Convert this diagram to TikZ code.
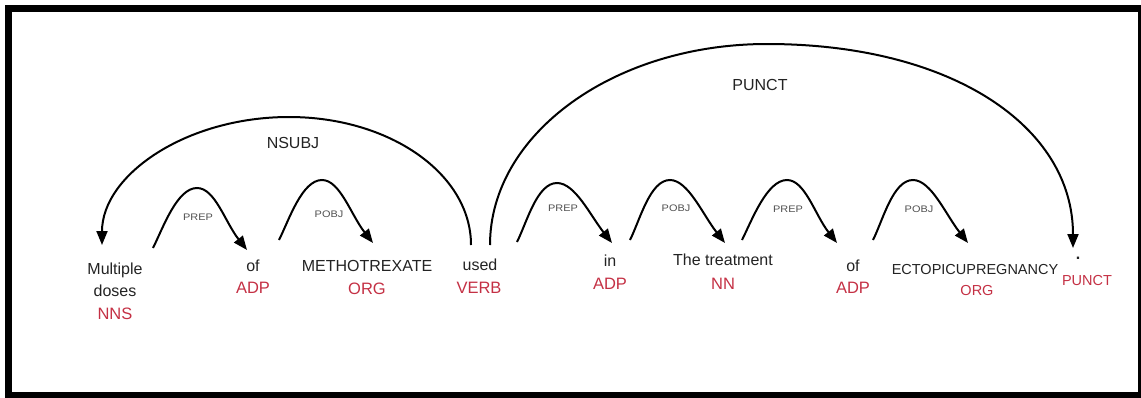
\documentclass[tikz,border=0pt]{standalone}
\usepackage{fontspec}
\setmainfont{Liberation Sans}
\usetikzlibrary{arrows.meta}
\definecolor{tagred}{RGB}{196,48,68}
\definecolor{wordgray}{RGB}{35,35,35}
\definecolor{smallgray}{RGB}{80,80,80}
\begin{document}
\begin{tikzpicture}[x=1pt,y=-1pt,
  word/.style={anchor=base, text=wordgray, font=\fontsize{16}{18}\selectfont, inner sep=0pt},
  smallword/.style={anchor=base, text=wordgray, font=\fontsize{14.5}{16}\selectfont, inner sep=0pt},
  tag/.style={anchor=base, text=tagred, font=\fontsize{16.5}{18}\selectfont, inner sep=0pt},
  smalltag/.style={anchor=base, text=tagred, font=\fontsize{14.5}{16}\selectfont, inner sep=0pt},
  rel/.style={anchor=base, text=wordgray, font=\fontsize{16}{18}\selectfont, inner sep=0pt},
  minirel/.style={anchor=base, text=smallgray, font=\fontsize{9.5}{10}\selectfont, inner sep=0pt},
  dep/.style={line width=2pt, draw=black, -{Triangle[length=14pt,width=11pt]}},
]
\useasboundingbox (0,0) rectangle (1141,397);
\begin{scope}
  \clip (0,0) rectangle (1141,397);
  \draw[line width=7pt] (8,8) rectangle (1141.5,395.5);
\end{scope}

% words
\node[word] (w1a) at (115,274) {Multiple};
\node[word] (w1b) at (115,296) {doses};
\node[tag]  (t1)  at (115,319) {NNS};
\node[word] (w2)  at (253,271) {of};
\node[tag]  (t2)  at (253,293) {ADP};
\node[word] (w3)  at (367,271) {METHOTREXATE};
\node[tag]  (t3)  at (367,294) {ORG};
\node[word] (w4)  at (480,270) {used};
\node[tag]  (t4)  at (479,293) {VERB};
\node[word] (w5)  at (610,266) {in};
\node[tag]  (t5)  at (610,289) {ADP};
\node[word] (w6)  at (723,265) {The treatment};
\node[tag]  (t6)  at (723,289) {NN};
\node[word] (w7)  at (853,271) {of};
\node[tag]  (t7)  at (853,293) {ADP};
\node[smallword] (w8) at (975,274) {ECTOPICUPREGNANCY};
\node[smalltag]  (t8) at (977,295) {ORG};
\node[word] (w9)  at (1078,259) {\textbf{.}};
\node[smalltag]  (t9) at (1087,285) {PUNCT};

% long arcs
\coordinate (ns)  at (471,245);
\coordinate (nsp) at (289,117);
\coordinate (nt)  at (102,245);
\draw[dep] (ns) .. controls +(0,-71) and +(101,0) .. (nsp)
               .. controls +(-103,0) and +(0,-70) .. (nt);
\node[rel] (lnsubj) at (293,148) {NSUBJ};

\coordinate (ps)  at (490,245);
\coordinate (pp)  at (767,44);
\coordinate (pt)  at (1073,248);
\draw[dep] (ps) .. controls +(0,-111) and +(-153,0) .. (pp)
               .. controls +(184,0) and +(0,-122) .. (pt);
\node[rel] (lpunct) at (760,90) {PUNCT};

% short arcs
\foreach \i/\sx/\sy/\px/\py/\ex/\ey/\lab/\lx/\ly in {
  1/153/248/197/188/247/250/PREP/198/220,
  2/279/240/322/180/373/243/POBJ/329/217,
  3/517/242/557/183/612/243/PREP/563/211,
  4/630/240/670/180/725/243/POBJ/676/211,
  5/742/240/787/180/837/243/PREP/788/212,
  6/873/240/913/180/968/243/POBJ/919/212}{
  \coordinate (s\i) at (\sx,\sy);
  \coordinate (p\i) at (\px,\py);
  \coordinate (e\i) at (\ex,\ey);
  \draw[dep] (s\i) .. controls +(10,-20) and +(-20,0) .. (p\i)
                  .. controls +(18,0) and +(-22,-28) .. (e\i);
  \node[minirel] (l\i) at (\lx,\ly) {\scalebox{1.15}[1]{\lab}};
}
\end{tikzpicture}
\end{document}
